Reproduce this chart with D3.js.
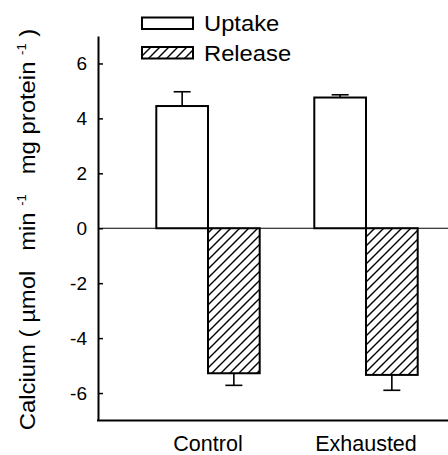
<!DOCTYPE html>
<html>
<head>
<meta charset="utf-8">
<script src="https://cdn.jsdelivr.net/npm/d3@7"></script>
<style>
  body { margin: 0; background: #fff; }
  text { font-family: "Liberation Sans", Arial, sans-serif; fill: #000; white-space: pre; }
</style>
</head>
<body>
<div id="chart"></div>
<script>
const width = 448, height = 455;

// data
const categories = ["Control", "Exhausted"];
const series = ["Uptake", "Release"];
const uptake = [4.45, 4.76];
const uptakeErr = [0.52, 0.1];
const release = [-5.28, -5.34];
const releaseErr = [0.44, 0.56];
const yTicks = [-6, -4, -2, 0, 2, 4, 6];

const margin = {top: 36, right: 0, bottom: 34.5, left: 98};

const svg = d3.select("#chart").append("svg")
    .attr("width", width)
    .attr("height", height);

// hatch pattern for the release bars
const defs = svg.append("defs");
const pat = defs.append("pattern")
    .attr("id", "hatch")
    .attr("patternUnits", "userSpaceOnUse")
    .attr("width", 9)
    .attr("height", 9);
pat.append("rect").attr("width", 9).attr("height", 9).attr("fill", "#fff");
pat.append("path")
    .attr("d", "M-1,1 l2,-2 M0,9 l9,-9 M8,10 l2,-2")
    .attr("stroke", "#000")
    .attr("stroke-width", 1.4);

const y = d3.scaleLinear()
    .domain([-7, 7])
    .range([height - margin.bottom, margin.top]);

const x = d3.scalePoint()
    .domain(categories)
    .range([margin.left + 110, width - 82]);

const inner = d3.scaleBand()
    .domain(series)
    .range([-51.7, 51.7]);

const rows = categories.map((c, i) => [
    {cat: c, s: "Uptake", v: uptake[i], e: uptakeErr[i]},
    {cat: c, s: "Release", v: release[i], e: releaseErr[i]}
]).flat();

// zero line
svg.append("line")
    .attr("x1", margin.left).attr("x2", width)
    .attr("y1", y(0)).attr("y2", y(0))
    .attr("stroke", "#000")
    .attr("stroke-width", 1);

// error bars (drawn under bars)
const eb = svg.append("g");
rows.forEach(d => {
    const cx = x(d.cat) + inner(d.s) + inner.bandwidth() / 2;
    const tip = d.v >= 0 ? d.v + d.e : d.v - d.e;
    eb.append("line")
        .attr("x1", cx).attr("x2", cx)
        .attr("y1", y(d.v)).attr("y2", y(tip))
        .attr("stroke", "#000").attr("stroke-width", 1.6);
    eb.append("line")
        .attr("x1", cx - 8.5).attr("x2", cx + 8.5)
        .attr("y1", y(tip)).attr("y2", y(tip))
        .attr("stroke", "#000").attr("stroke-width", 1.6);
});

svg.append("g").selectAll("rect")
    .data(rows)
    .enter()
    .append("rect")
    .attr("x", d => x(d.cat) + inner(d.s))
    .attr("width", inner.bandwidth())
    .attr("y", d => y(Math.max(0, d.v)))
    .attr("height", d => Math.abs(y(d.v) - y(0)))
    .attr("fill", d => d.s === "Uptake" ? "#fff" : "url(#hatch)")
    .attr("stroke", "#000")
    .attr("stroke-width", 2);

// y axis
const yAxis = svg.append("g")
    .attr("transform", `translate(${margin.left},0)`)
    .call(d3.axisLeft(y).tickValues(yTicks).tickFormat(d => String(d))
        .tickSize(-5).tickPadding(11).tickSizeOuter(0));
yAxis.select(".domain").attr("stroke-width", 2);
yAxis.selectAll(".tick line").attr("stroke-width", 1.5);
yAxis.selectAll("text")
    .style("font-size", "19px")
    .attr("font-family", null);

// bottom frame line
svg.append("line")
    .attr("x1", margin.left - 1).attr("x2", width)
    .attr("y1", y(-7)).attr("y2", y(-7))
    .attr("stroke", "#000")
    .attr("stroke-width", 2);

// category labels
svg.append("g").selectAll("text")
    .data(categories)
    .enter()
    .append("text")
    .attr("x", d => x(d))
    .attr("y", 451)
    .attr("text-anchor", "middle")
    .style("font-size", "21.5px")
    .text(d => d);

// y label (glyphs a bit wide in the original, so stretch along the text)
const yl = svg.append("text")
    .attr("transform", "translate(35,229.5) rotate(-90) scale(1.085,1)")
    .attr("text-anchor", "middle")
    .style("font-size", "22px");
yl.append("tspan").text("Calcium ( \u00b5mol   min ");
yl.append("tspan").attr("dy", -9).style("font-size", "12px").text("-1");
yl.append("tspan").attr("dy", 9).text("   mg protein ");
yl.append("tspan").attr("dy", -9).style("font-size", "12px").text("-1");
yl.append("tspan").attr("dy", 9).text(" )");

// legend
const legend = svg.append("g");
series.forEach((s, i) => {
    legend.append("rect")
        .attr("x", 142).attr("y", 17.5 + i * 29.5)
        .attr("width", 51).attr("height", 11.5)
        .attr("fill", s === "Uptake" ? "#fff" : "url(#hatch)")
        .attr("stroke", "#000")
        .attr("stroke-width", 2);
    legend.append("text")
        .attr("transform", `translate(204,${31 + i * 30}) scale(1.08,1)`)
        .style("font-size", "22px")
        .text(s);
});
</script>
</body>
</html>
